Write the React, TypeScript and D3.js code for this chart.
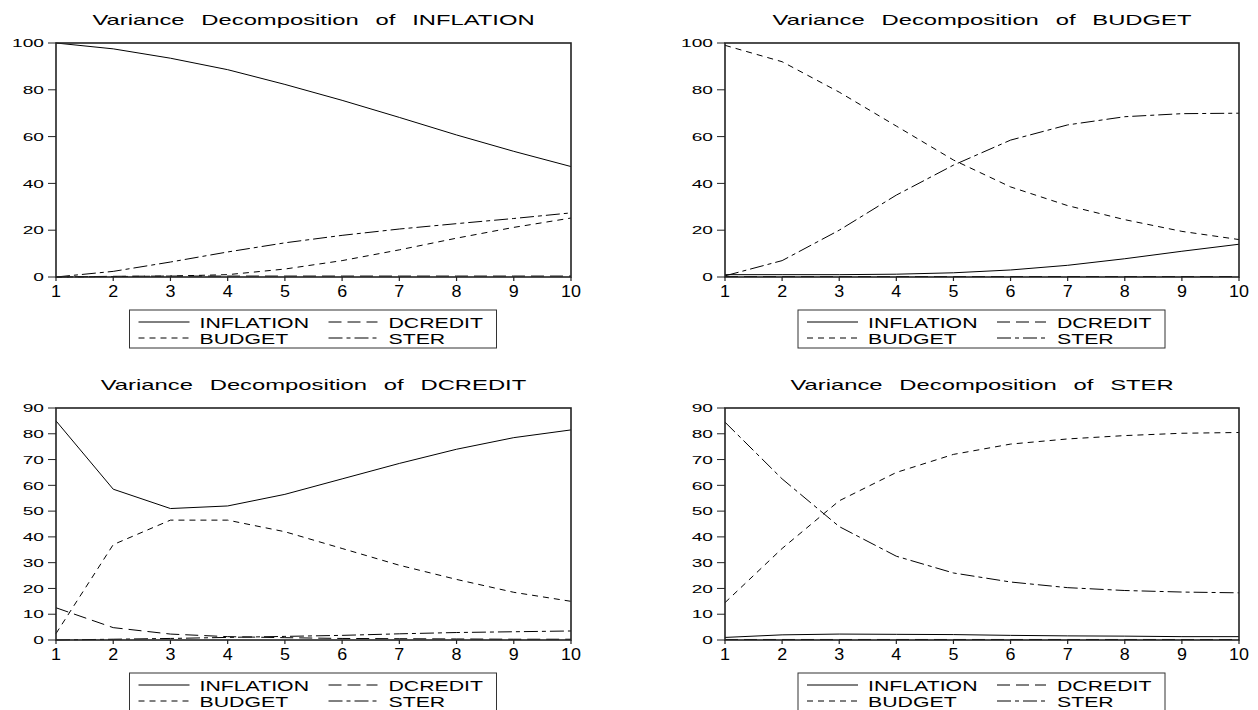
import React from 'react';
import * as d3 from 'd3';

// forecast horizon
const periods = [1, 2, 3, 4, 5, 6, 7, 8, 9, 10];
const seriesNames = ['INFLATION', 'DCREDIT', 'BUDGET', 'STER'];
const yTicksTop = [0, 20, 40, 60, 80, 100];
const yTicksBottom = [0, 10, 20, 30, 40, 50, 60, 70, 80, 90];

// Variance Decomposition of INFLATION
const infINFLATION = [100, 97.5, 93.5, 88.6, 82.3, 75.5, 68.2, 60.7, 53.7, 47.2];
const infDCREDIT = [0, 0.3, 0.4, 0.4, 0.4, 0.4, 0.4, 0.4, 0.4, 0.4];
const infBUDGET = [0, 0.2, 0.4, 1.0, 3.4, 7.0, 11.6, 16.6, 21.2, 25.2];
const infSTER = [0, 2.4, 6.4, 10.7, 14.6, 17.8, 20.5, 22.8, 25.0, 27.4];

// Variance Decomposition of BUDGET
const budINFLATION = [1.0, 1.0, 1.0, 1.2, 1.8, 3.0, 5.0, 7.8, 11.0, 14.0];
const budDCREDIT = [0.2, 0.2, 0.2, 0.2, 0.2, 0.2, 0.2, 0.2, 0.2, 0.2];
const budBUDGET = [99.0, 92.0, 79.0, 64.5, 50.0, 38.5, 30.5, 24.5, 19.5, 16.0];
const budSTER = [0.5, 7.0, 20.0, 35.0, 47.8, 58.5, 65.0, 68.5, 69.8, 70.0];

// Variance Decomposition of DCREDIT
const dcrINFLATION = [85.0, 58.5, 51.0, 52.0, 56.5, 62.5, 68.5, 74.0, 78.5, 81.5];
const dcrDCREDIT = [12.5, 4.8, 2.3, 1.3, 0.9, 0.6, 0.5, 0.4, 0.3, 0.3];
const dcrBUDGET = [2.5, 37.0, 46.5, 46.5, 42.0, 35.5, 29.0, 23.5, 18.5, 15.0];
const dcrSTER = [0, 0.3, 0.6, 1.0, 1.4, 1.8, 2.4, 2.9, 3.2, 3.5];

// Variance Decomposition of STER
const stINFLATION = [1.0, 2.0, 2.3, 2.2, 2.1, 1.8, 1.6, 1.5, 1.3, 1.3];
const stDCREDIT = [0.2, 0.2, 0.2, 0.2, 0.2, 0.2, 0.2, 0.2, 0.2, 0.2];
const stBUDGET = [14.5, 35.5, 54.0, 65.0, 72.0, 76.0, 78.0, 79.3, 80.2, 80.5];
const stSTER = [84.5, 62.5, 44.0, 32.5, 26.0, 22.5, 20.3, 19.2, 18.6, 18.3];

const FONT = '"Liberation Sans", Arial, sans-serif';

const dashes: Record<string, string | undefined> = {
  INFLATION: undefined,
  DCREDIT: '13,6',
  BUDGET: '6,5',
  STER: '14,4,4,4',
};

const panels = [
  {
    title: 'Variance Decomposition of INFLATION',
    left: 56, right: 571, top: 43, bottom: 277, ymax: 100, ticks: yTicksTop,
    series: { INFLATION: infINFLATION, DCREDIT: infDCREDIT, BUDGET: infBUDGET, STER: infSTER },
  },
  {
    title: 'Variance Decomposition of BUDGET',
    left: 725, right: 1239, top: 43, bottom: 277, ymax: 100, ticks: yTicksTop,
    series: { INFLATION: budINFLATION, DCREDIT: budDCREDIT, BUDGET: budBUDGET, STER: budSTER },
  },
  {
    title: 'Variance Decomposition of DCREDIT',
    left: 56, right: 571, top: 408, bottom: 640, ymax: 90, ticks: yTicksBottom,
    series: { INFLATION: dcrINFLATION, DCREDIT: dcrDCREDIT, BUDGET: dcrBUDGET, STER: dcrSTER },
  },
  {
    title: 'Variance Decomposition of STER',
    left: 725, right: 1239, top: 408, bottom: 640, ymax: 90, ticks: yTicksBottom,
    series: { INFLATION: stINFLATION, DCREDIT: stDCREDIT, BUDGET: stBUDGET, STER: stSTER },
  },
];

// stretched text, the original graph is wider than it is tall
function SText(props: {x: number, y: number, sx: number, size: number, anchor?: string, children: any, ws?: number}) {
  return (
    <text
      transform={`translate(${props.x},${props.y}) scale(${props.sx},1)`}
      textAnchor={props.anchor || 'start'}
      fontSize={props.size}
      fontFamily={FONT}
      fill="#000"
      style={{ wordSpacing: props.ws ? props.ws + 'px' : undefined }}
    >
      {props.children}
    </text>
  );
}

function Panel({ p }: { p: typeof panels[0] }) {
  const x = d3.scaleLinear().domain([1, 10]).range([p.left, p.right]);
  const y = d3.scaleLinear().domain([0, p.ymax]).range([p.bottom, p.top]);
  const line = d3.line<number>().x((d, i) => x(periods[i])).y(d => y(d));
  const cx = (p.left + p.right) / 2;
  const lx = cx - 184;
  const ly = p.bottom + 33;

  return (
    <g>
      <SText x={cx} y={p.top - 18} sx={1.7} size={14} anchor="middle" ws={6}>{p.title}</SText>

      {seriesNames.map(name => (
        <path key={name} d={line((p.series as any)[name]) || ''} fill="none"
          stroke="#000" strokeWidth={1} strokeDasharray={dashes[name]} />
      ))}

      <rect x={p.left} y={p.top} width={p.right - p.left} height={p.bottom - p.top}
        fill="none" stroke="#222" strokeWidth={1.6} />

      {p.ticks.map(t => (
        <g key={'y' + t}>
          <line x1={p.left - 8} x2={p.left} y1={y(t)} y2={y(t)} stroke="#222" strokeWidth={1} />
          <SText x={p.left - 12} y={y(t) + 4.2} sx={1.65} size={11.6} anchor="end">{t}</SText>
        </g>
      ))}

      {periods.map(t => (
        <g key={'x' + t}>
          <line x1={x(t)} x2={x(t)} y1={p.bottom} y2={p.bottom + 4} stroke="#222" strokeWidth={1.2} />
          <SText x={x(t)} y={p.bottom + 20} sx={1.12} size={16} anchor="middle">{t}</SText>
        </g>
      ))}

      <rect x={lx} y={ly} width={367} height={38} fill="#fff" stroke="#333" strokeWidth={1} />
      {seriesNames.map((name, i) => {
        const col = i % 2;
        const row = Math.floor(i / 2);
        const x0 = lx + (col === 0 ? 9 : 199);
        const x1 = lx + (col === 0 ? 60 : 248);
        const tx = lx + (col === 0 ? 70 : 259);
        const yy = ly + (row === 0 ? 12 : 28);
        // legend order: INFLATION, DCREDIT / BUDGET, STER
        return (
          <g key={'l' + name}>
            <line x1={x0} x2={x1} y1={yy} y2={yy} stroke="#000" strokeWidth={1} strokeDasharray={dashes[name]} />
            <SText x={tx} y={yy + 5.5} sx={1.52} size={14}>{name}</SText>
          </g>
        );
      })}
    </g>
  );
}

export default function App() {
  return (
    <svg width={1258} height={710} style={{ position: 'absolute', left: 0, top: 0, background: '#fff' }}>
      <rect x={0} y={0} width={1258} height={710} fill="#fff" />
      {panels.map(p => <Panel key={p.title} p={p} />)}
    </svg>
  );
}
